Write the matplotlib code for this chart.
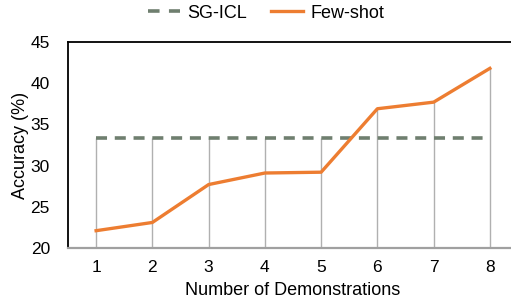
import numpy as np
import matplotlib.pyplot as plt
from matplotlib.lines import Line2D

plt.rcParams['font.family'] = ['Liberation Sans', 'DejaVu Sans']

# Data
demos = [1, 2, 3, 4, 5, 6, 7, 8]
sg_icl = [33.3] * 8
few_shot = [22.1, 23.1, 27.7, 29.1, 29.2, 36.9, 37.7, 41.8]

ORANGE = "#ed7d31"
GREY_GREEN = "#6f7f6f"

fig = plt.figure(figsize=(5.11, 3.02), dpi=100)
ax = fig.add_axes([68 / 511, 54 / 302, 450 / 511, 206 / 302])

# drop lines from the higher of the two series down to the axis
tops = np.maximum(sg_icl, few_shot)
ax.vlines(demos, 20, tops, color="#b0b0b0", linewidth=1.0, zorder=1)

ax.plot(demos, sg_icl, color=GREY_GREEN, linewidth=2.6, dashes=(3.05, 2.15),
        label="SG-ICL", zorder=2)
ax.plot(demos, few_shot, color=ORANGE, linewidth=2.4, label="Few-shot",
        zorder=3)

ax.set_xlim(0.5, 8.5)
ax.set_ylim(20, 45)
ax.set_xticks(demos)
ax.set_yticks(range(20, 46, 5))
ax.tick_params(axis="both", length=0, labelsize=12.5)
ax.tick_params(axis="y", pad=13)
ax.tick_params(axis="x", pad=9)

for side in ("left", "top", "right"):
    ax.spines[side].set_color("black")
    ax.spines[side].set_linewidth(1.3)
ax.spines["bottom"].set_color("#a0a0a0")
ax.spines["bottom"].set_linewidth(1.6)

ax.set_xlabel("Number of Demonstrations", fontsize=13, labelpad=5)
ax.set_ylabel("Accuracy (%)", fontsize=13, labelpad=1)

# legend handle: two dashes, like the reference
handles = [Line2D([], [], color=GREY_GREEN, linewidth=2.6,
                  linestyle=(0, (3.2, 2.6))),
           Line2D([], [], color=ORANGE, linewidth=2.4)]
fig.legend(handles, ["SG-ICL", "Few-shot"], loc="center",
           bbox_to_anchor=(266 / 511, 1 - 13 / 302), ncol=2, frameon=False,
           fontsize=13, handlelength=1.78, handletextpad=0.4,
           columnspacing=1.3)

fig.savefig("out.png", dpi=100)
